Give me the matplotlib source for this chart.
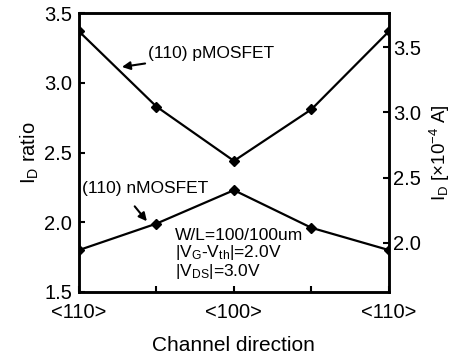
import matplotlib
matplotlib.use('Agg')
import matplotlib.pyplot as plt

plt.rcParams['font.family'] = ['Liberation Sans', 'DejaVu Sans']
plt.rcParams['mathtext.default'] = 'regular'

# channel direction positions (<110> ... <100> ... <110>)
pos = [0, 1, 2, 3, 4]
tick_labels = ['<110>', '', '<100>', '', '<110>']
p_ratio = [3.37, 2.83, 2.44, 2.81, 3.37]
n_ratio = [1.80, 1.99, 2.23, 1.96, 1.80]

fig = plt.figure(figsize=(4.56, 3.56), dpi=100)
ax = fig.add_axes([0.173, 0.18, 0.68, 0.783])

ax.plot(pos, p_ratio, color='black', lw=1.6, marker='D', ms=5.5)
ax.plot(pos, n_ratio, color='black', lw=1.6, marker='D', ms=5.5)

ax.set_xlim(0, 4)
ax.set_ylim(1.5, 3.5)
ax.set_xticks(pos)
ax.set_xticklabels(tick_labels)
ax.set_yticks([1.5, 2.0, 2.5, 3.0, 3.5])
ax.set_yticklabels(['1.5', '2.0', '2.5', '3.0', '3.5'])
ax.tick_params(axis='both', direction='in', length=4, width=1.5, labelsize=14.5)
ax.tick_params(axis='x', pad=8)
ax.tick_params(axis='y', pad=5)
for s in ax.spines.values():
    s.set_linewidth(1.8)

ax.set_xlabel('Channel direction', fontsize=15, labelpad=10)
ax.set_ylabel('I$_D$ ratio', fontsize=14.5, labelpad=2)

ax2 = ax.twinx()
ax2.set_ylim(1.625, 3.76)
ax2.set_yticks([2.0, 2.5, 3.0, 3.5])
ax2.set_yticklabels(['2.0', '2.5', '3.0', '3.5'])
ax2.tick_params(axis='y', direction='in', length=4, width=1.5, labelsize=14.5, pad=3)
for s in ax2.spines.values():
    s.set_linewidth(1.8)
ax2.set_ylabel('I$_D$ [×10$^{-4}$ A]', fontsize=13.5, labelpad=5)

ax.annotate('(110) pMOSFET', xy=(0.555, 3.114), xytext=(0.89, 3.21),
            fontsize=12.5, va='center', ha='left',
            arrowprops=dict(arrowstyle='-|>', color='black', lw=1.5,
                            mutation_scale=12, shrinkA=0, shrinkB=0))
ax.text(0.04, 2.243, '(110) nMOSFET', fontsize=12.5, va='center', ha='left')
ax.annotate('', xy=(0.877, 2.007), xytext=(0.72, 2.114),
            arrowprops=dict(arrowstyle='-|>', color='black', lw=1.5,
                            mutation_scale=12, shrinkA=0, shrinkB=0))

ax.text(1.24, 1.96, 'W/L=100/100um\n|V$_G$-V$_{th}$|=2.0V\n|V$_{DS}$|=3.0V',
        fontsize=12.5, va='top', ha='left', linespacing=1.0)

fig.savefig('out.png', dpi=100)
